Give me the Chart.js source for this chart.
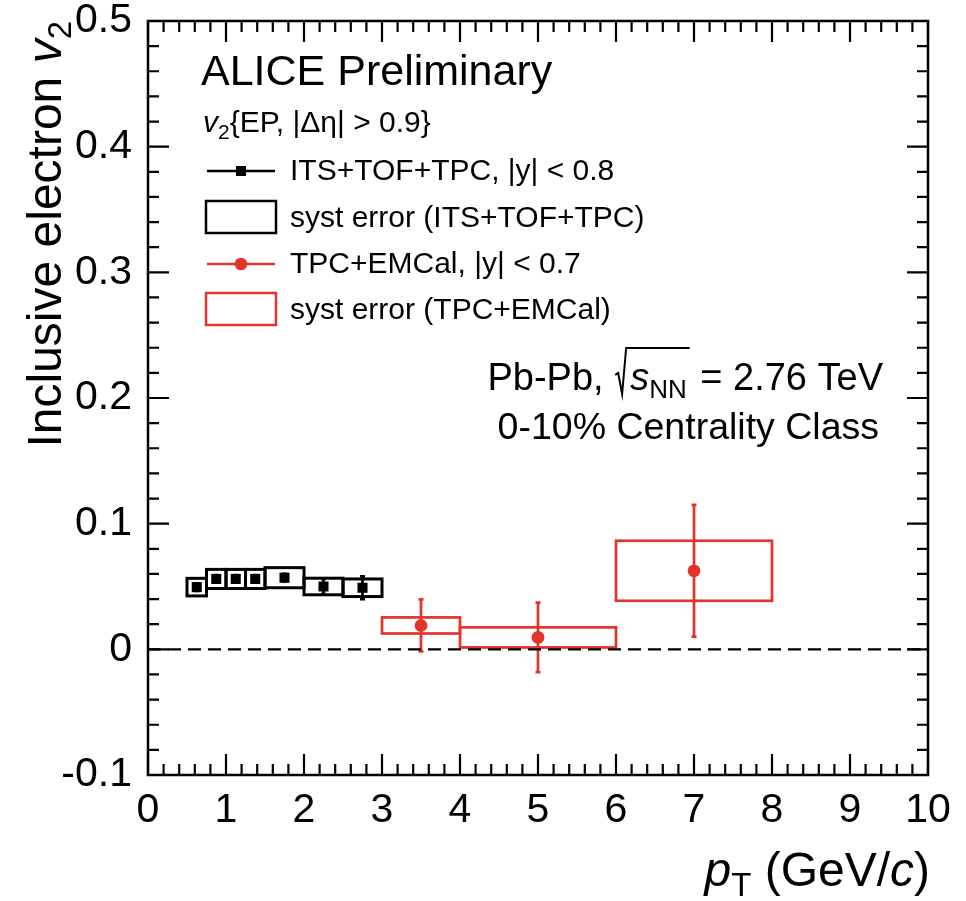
<!DOCTYPE html>
<html>
<head>
<meta charset="utf-8">
<script src="https://cdn.jsdelivr.net/npm/chart.js@4.4.1/dist/chart.umd.min.js"></script>
<style>html,body{margin:0;padding:0;background:#fff;}</style>
</head>
<body>
<canvas id="c" width="966" height="901"></canvas>
<script>
// axis ticks
var xTicks = [0, 1, 2, 3, 4, 5, 6, 7, 8, 9, 10];
var yTicks = [-0.1, 0, 0.1, 0.2, 0.3, 0.4, 0.5];
var xMinorStep = 0.2;
var yMinorStep = 0.02;

// ITS+TOF+TPC, |y| < 0.8
var itsPt = [0.625, 0.875, 1.125, 1.375, 1.75, 2.25, 2.75];
var itsV2 = [0.0495, 0.056, 0.056, 0.056, 0.057, 0.050, 0.049];
var itsStat = [0.003, 0.003, 0.003, 0.003, 0.003, 0.006, 0.009];
var itsBins = [0.5, 0.75, 1, 1.25, 1.5, 2, 2.5, 3];
var itsSyst = [0.007, 0.0076, 0.0076, 0.0076, 0.008, 0.0066, 0.007];

// TPC+EMCal, |y| < 0.7
var emcPt = [3.5, 5, 7];
var emcV2 = [0.019, 0.0095, 0.0625];
var emcStat = [0.0207, 0.0276, 0.0524];
var emcBins = [3, 4, 6, 8];
var emcSyst = [0.0064, 0.008, 0.0239];

var legendLabels = [
  'ITS+TOF+TPC, |y| < 0.8',
  'syst error (ITS+TOF+TPC)',
  'TPC+EMCal, |y| < 0.7',
  'syst error (TPC+EMCal)'
];

var RED = '#e3342b';
var FONT = '"Liberation Sans", Arial, Helvetica, sans-serif';

function font(size, italic) {
  return (italic ? 'italic ' : '') + size + 'px ' + FONT;
}
function toPoints(xs, ys) {
  return xs.map(function (x, i) { return { x: x, y: ys[i] }; });
}
function richWidth(ctx, parts) {
  var w = 0;
  parts.forEach(function (p) {
    ctx.font = font(p.size, p.italic);
    w += ctx.measureText(p.t).width;
  });
  return w;
}
function drawRich(ctx, parts, x, y) {
  parts.forEach(function (p) {
    ctx.font = font(p.size, p.italic);
    ctx.fillText(p.t, x, y + (p.dy || 0));
    x += ctx.measureText(p.t).width;
  });
  return x;
}

// syst boxes and stat error bars, under the markers
var errorPlugin = {
  id: 'errors',
  beforeDatasetsDraw: function (chart) {
    var ctx = chart.ctx, xs = chart.scales.x, ys = chart.scales.y;
    function boxes(bins, vals, syst, color, lw) {
      ctx.save();
      ctx.strokeStyle = color;
      ctx.lineWidth = lw;
      for (var i = 0; i < vals.length; i++) {
        var x0 = xs.getPixelForValue(bins[i]), x1 = xs.getPixelForValue(bins[i + 1]);
        var y0 = ys.getPixelForValue(vals[i] + syst[i]), y1 = ys.getPixelForValue(vals[i] - syst[i]);
        ctx.strokeRect(x0, y0, x1 - x0, y1 - y0);
      }
      ctx.restore();
    }
    function bars(pts, vals, stat, color, lw) {
      ctx.save();
      ctx.strokeStyle = color;
      ctx.lineWidth = lw;
      for (var i = 0; i < vals.length; i++) {
        var x = xs.getPixelForValue(pts[i]);
        var y0 = ys.getPixelForValue(vals[i] + stat[i]), y1 = ys.getPixelForValue(vals[i] - stat[i]);
        ctx.beginPath();
        ctx.moveTo(x, y0); ctx.lineTo(x, y1);
        ctx.moveTo(x - 2.5, y0); ctx.lineTo(x + 2.5, y0);
        ctx.moveTo(x - 2.5, y1); ctx.lineTo(x + 2.5, y1);
        ctx.stroke();
      }
      ctx.restore();
    }
    boxes(itsBins, itsV2, itsSyst, '#000', 3);
    boxes(emcBins, emcV2, emcSyst, RED, 2.7);
    bars(itsPt, itsV2, itsStat, '#000', 2.7);
    bars(emcPt, emcV2, emcStat, RED, 2.7);
  }
};

// frame with inward ticks on all four sides
var framePlugin = {
  id: 'frame',
  afterDatasetsDraw: function (chart) {
    var ctx = chart.ctx, a = chart.chartArea, xs = chart.scales.x, ys = chart.scales.y;
    ctx.save();
    ctx.strokeStyle = '#000';
    ctx.lineWidth = 2.2;
    ctx.beginPath();
    var v, p, len;
    var nx = Math.round((xTicks[xTicks.length - 1] - xTicks[0]) / xMinorStep);
    for (var i = 0; i <= nx; i++) {
      v = xTicks[0] + i * xMinorStep;
      p = xs.getPixelForValue(v);
      len = (i % 5 === 0) ? 21 : 11;
      ctx.moveTo(p, a.bottom); ctx.lineTo(p, a.bottom - len);
      ctx.moveTo(p, a.top); ctx.lineTo(p, a.top + len);
    }
    var ny = Math.round((yTicks[yTicks.length - 1] - yTicks[0]) / yMinorStep);
    for (var j = 0; j <= ny; j++) {
      v = yTicks[0] + j * yMinorStep;
      p = ys.getPixelForValue(v);
      len = (j % 5 === 0) ? 21 : 11;
      ctx.moveTo(a.left, p); ctx.lineTo(a.left + len, p);
      ctx.moveTo(a.right, p); ctx.lineTo(a.right - len, p);
    }
    ctx.stroke();
    ctx.lineWidth = 2.5;
    ctx.strokeRect(a.left, a.top, a.right - a.left, a.bottom - a.top);
    ctx.restore();
  }
};

// titles, legend and labels
var textPlugin = {
  id: 'texts',
  afterDraw: function (chart) {
    var ctx = chart.ctx, a = chart.chartArea;
    ctx.save();
    ctx.fillStyle = '#000';
    ctx.textBaseline = 'alphabetic';
    ctx.textAlign = 'left';

    // y title, rotated, ending at the top of the frame
    var yt = [
      { t: 'Inclusive electron ', size: 48 },
      { t: 'v', size: 48, italic: true },
      { t: '2', size: 33, dy: 10 }
    ];
    var wy = richWidth(ctx, yt);
    ctx.save();
    ctx.translate(61, 0);
    ctx.rotate(-Math.PI / 2);
    drawRich(ctx, yt, -(a.top + wy), 0);
    ctx.restore();

    // x title, right aligned to the frame
    var xt = [
      { t: 'p', size: 48, italic: true },
      { t: 'T', size: 33, dy: 10 },
      { t: ' (GeV/', size: 48 },
      { t: 'c', size: 48, italic: true },
      { t: ')', size: 48 }
    ];
    drawRich(ctx, xt, a.right + 2 - richWidth(ctx, xt), 886);

    // header
    ctx.font = font(43);
    ctx.fillText('ALICE Preliminary', 201, 85);
    drawRich(ctx, [
      { t: 'v', size: 30, italic: true },
      { t: '2', size: 21, dy: 7 },
      { t: '{EP, |\u0394\u03b7| > 0.9}', size: 30 }
    ], 203, 132);

    // legend
    ctx.lineWidth = 2.5;
    ctx.strokeStyle = '#000';
    ctx.beginPath(); ctx.moveTo(207, 171); ctx.lineTo(275, 171); ctx.stroke();
    ctx.fillRect(236, 166, 10, 10);
    ctx.strokeRect(206, 201, 70, 32);
    ctx.strokeStyle = RED;
    ctx.fillStyle = RED;
    ctx.beginPath(); ctx.moveTo(207, 264); ctx.lineTo(275, 264); ctx.stroke();
    ctx.beginPath(); ctx.arc(241, 264, 6.3, 0, Math.PI * 2); ctx.fill();
    ctx.strokeRect(206, 293, 70, 32);
    ctx.fillStyle = '#000';
    ctx.font = font(30);
    var baselines = [180, 227, 273, 319];
    legendLabels.forEach(function (s, i) { ctx.fillText(s, 290, baselines[i]); });

    // collision system, right aligned
    var fs = 38;
    ctx.font = font(fs);
    var w1 = ctx.measureText('Pb-Pb, ').width;
    var radW = 16;
    ctx.font = font(fs, true);
    var ws = ctx.measureText('s').width;
    ctx.font = font(26);
    var wnn = ctx.measureText('NN').width;
    ctx.font = font(fs);
    var w3 = ctx.measureText(' = 2.76 TeV').width;
    var total = w1 + radW + ws + wnn + 3 + w3;
    var x = 883 - total, by = 390;
    ctx.fillText('Pb-Pb, ', x, by);
    x += w1;
    ctx.lineWidth = 2;
    ctx.strokeStyle = '#000';
    ctx.beginPath();
    ctx.moveTo(x + 1, by - 15);
    ctx.lineTo(x + 4, by - 17);
    ctx.lineTo(x + 8, by + 4);
    ctx.lineTo(x + 12, by - 42);
    ctx.lineTo(x + radW + ws + wnn + 3, by - 42);
    ctx.stroke();
    x += radW;
    ctx.font = font(fs, true);
    ctx.fillText('s', x, by);
    x += ws;
    ctx.font = font(26);
    ctx.fillText('NN', x, by + 8);
    x += wnn + 3;
    ctx.font = font(fs);
    ctx.fillText(' = 2.76 TeV', x, by);

    ctx.textAlign = 'right';
    ctx.font = font(37.5);
    ctx.fillText('0-10% Centrality Class', 879, 439);
    ctx.restore();
  }
};

var zeroLine = [
  { x: xTicks[0], y: 0 },
  { x: xTicks[xTicks.length - 1], y: 0 }
];

var tickFont = { family: FONT, size: 41, lineHeight: 1 };

function noPadding(s) {
  s.paddingTop = 0; s.paddingBottom = 0; s.paddingLeft = 0; s.paddingRight = 0;
}

new Chart(document.getElementById('c').getContext('2d'), {
  type: 'scatter',
  data: {
    datasets: [
      {
        type: 'line',
        data: zeroLine,
        borderColor: '#000',
        borderWidth: 2.3,
        borderDash: [13, 7],
        pointRadius: 0,
        fill: false
      },
      {
        label: legendLabels[0],
        data: toPoints(itsPt, itsV2),
        pointStyle: 'rect',
        pointRadius: 7.1,
        backgroundColor: '#000',
        borderWidth: 0
      },
      {
        label: legendLabels[2],
        data: toPoints(emcPt, emcV2),
        pointStyle: 'circle',
        pointRadius: 6.4,
        backgroundColor: RED,
        borderWidth: 0
      }
    ]
  },
  options: {
    responsive: false,
    animation: false,
    events: [],
    layout: { padding: { left: 0, top: 21, right: 38, bottom: 0 } },
    plugins: { legend: { display: false }, tooltip: { enabled: false } },
    scales: {
      x: {
        type: 'linear',
        min: xTicks[0],
        max: xTicks[xTicks.length - 1],
        grid: { display: false },
        border: { display: false },
        afterBuildTicks: function (s) { s.ticks = xTicks.map(function (v) { return { value: v }; }); },
        afterFit: function (s) { s.height = 126; noPadding(s); },
        ticks: { font: tickFont, color: '#000', padding: 7, maxRotation: 0, autoSkip: false }
      },
      y: {
        type: 'linear',
        min: yTicks[0],
        max: yTicks[yTicks.length - 1],
        grid: { display: false },
        border: { display: false },
        afterBuildTicks: function (s) { s.ticks = yTicks.map(function (v) { return { value: v }; }); },
        afterFit: function (s) { s.width = 148; noPadding(s); },
        ticks: {
          font: tickFont, color: '#000', padding: 8, autoSkip: false,
          callback: function (v) { return String(Math.round(v * 10) / 10); }
        }
      }
    }
  },
  plugins: [errorPlugin, framePlugin, textPlugin]
});
</script>
</body>
</html>
